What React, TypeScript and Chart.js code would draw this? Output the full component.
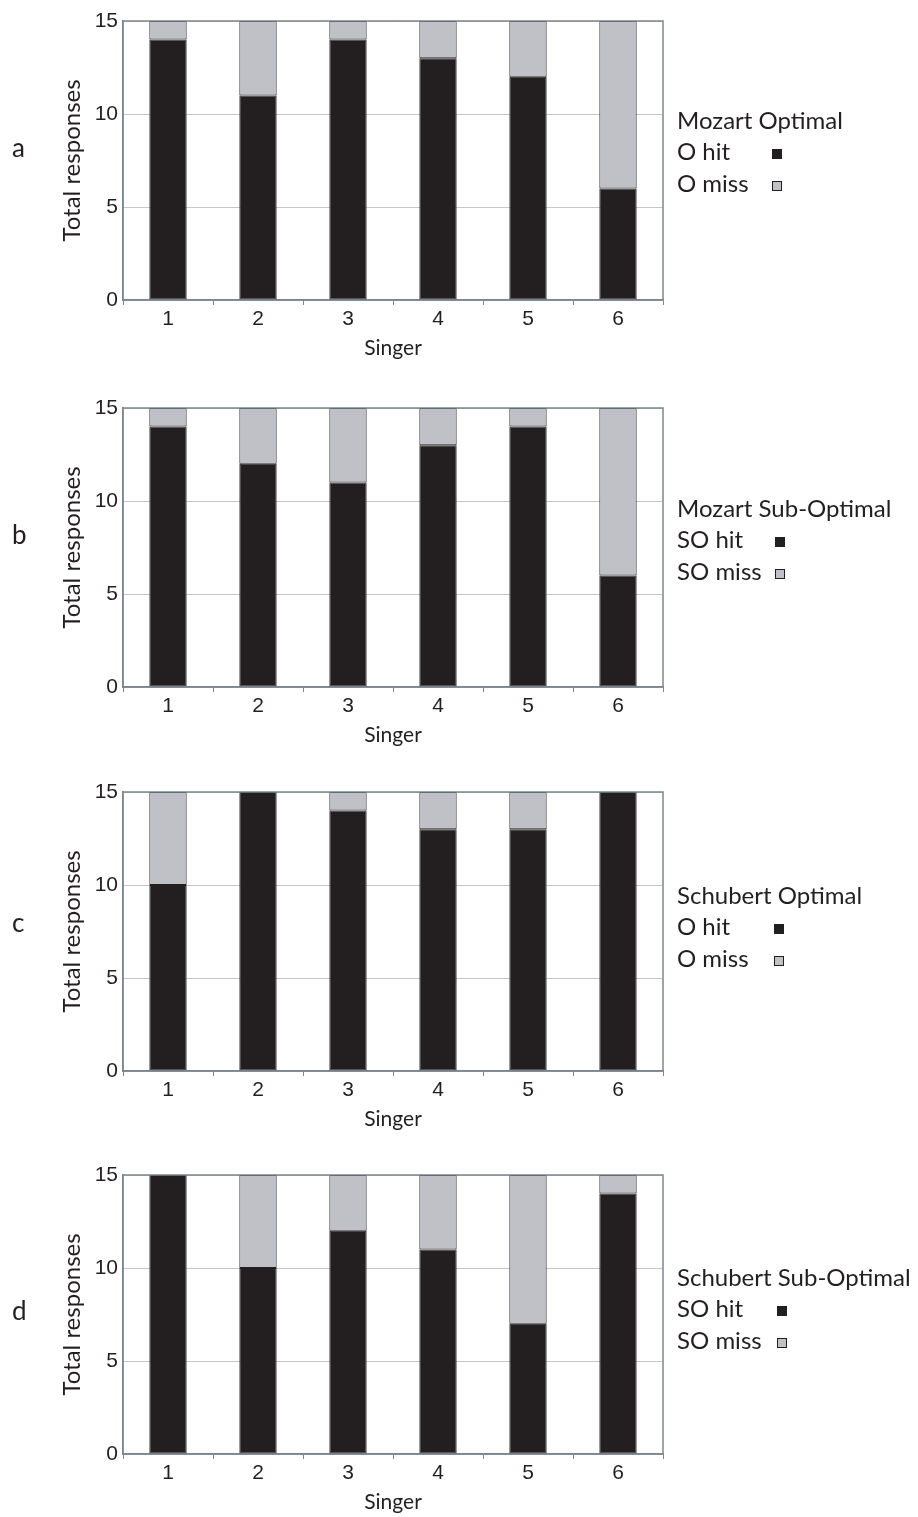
import React, { useEffect, useRef } from "react";
import { Chart, registerables } from "chart.js";

Chart.register(...registerables);

const singers = ["1", "2", "3", "4", "5", "6"];
const yTicks = [0, 5, 10, 15];

const mozartOptimalHit = [14, 11, 14, 13, 12, 6];
const mozartOptimalMiss = [1, 4, 1, 2, 3, 9];
const mozartSubOptimalHit = [14, 12, 11, 13, 14, 6];
const mozartSubOptimalMiss = [1, 3, 4, 2, 1, 9];
const schubertOptimalHit = [10, 15, 14, 13, 13, 15];
const schubertOptimalMiss = [5, 0, 1, 2, 2, 0];
const schubertSubOptimalHit = [15, 10, 12, 11, 7, 14];
const schubertSubOptimalMiss = [0, 5, 3, 4, 8, 1];

const HIT = "#231f20";
const MISS = "#bfc1c7";
const AXIS = "#7d868f";
const GRID = "#c6c6c6";
const TEXT = "#231f20";
const SANS = "Lato, 'Open Sans', sans-serif";
const TICKF = "'Liberation Sans', Arial, sans-serif";

const W = 918;
const H = 365;

const framePlugin = {
  id: "frame",
  afterDatasetsDraw(chart: any) {
    const { ctx, chartArea } = chart;
    const { left, top, right, bottom } = chartArea;
    ctx.save();
    ctx.strokeStyle = AXIS;
    ctx.lineWidth = 1.5;
    ctx.strokeRect(left, top, right - left, bottom - top);
    ctx.restore();
  },
};

type PanelProps = {
  top: number;
  hit: number[];
  miss: number[];
  hitLabel: string;
  missLabel: string;
  letter: string;
  letterY: number;
  title: string;
  titleY: number;
  squareX: number;
};

function Panel(p: PanelProps) {
  const ref = useRef<HTMLCanvasElement | null>(null);
  useEffect(() => {
    if (!ref.current) return;
    const chart = new Chart(ref.current, {
      type: "bar",
      data: {
        labels: singers,
        datasets: [
          {
            label: p.hitLabel,
            data: p.hit,
            backgroundColor: HIT,
            borderColor: HIT,
            borderWidth: 1,
            borderSkipped: false,
            barPercentage: 0.415,
            categoryPercentage: 1,
          },
          {
            label: p.missLabel,
            data: p.miss,
            backgroundColor: MISS,
            borderColor: HIT,
            borderWidth: 1,
            borderSkipped: false,
            barPercentage: 0.415,
            categoryPercentage: 1,
          },
        ],
      },
      options: {
        responsive: false,
        animation: false,
        layout: { padding: { left: 0, right: W - 663, top: 21, bottom: 0 } },
        plugins: { legend: { display: false }, tooltip: { enabled: false } },
        scales: {
          x: {
            stacked: true,
            grid: {
              offset: true,
              drawOnChartArea: false,
              drawTicks: true,
              tickLength: 5,
              color: AXIS,
              lineWidth: 1,
            },
            border: { display: true, color: AXIS, width: 1.5 },
            ticks: {
              color: TEXT,
              font: { family: TICKF, size: 21 },
              padding: 2,
              maxRotation: 0,
            },
            title: {
              display: true,
              text: "Singer",
              color: TEXT,
              font: { family: SANS, size: 21, lineHeight: 1 },
              padding: { top: 0, bottom: 6 },
            },
            afterFit: (s: any) => {
              s.height = H - 300;
            },
          },
          y: {
            stacked: true,
            min: 0,
            max: 15,
            grid: { color: GRID, lineWidth: 1, drawTicks: false },
            border: { display: true, color: AXIS, width: 1.5 },
            ticks: {
              color: TEXT,
              font: { family: TICKF, size: 21 },
              padding: 5,
            },
            afterBuildTicks: (s: any) => {
              s.ticks = yTicks.map((v) => ({ value: v }));
            },
            title: {
              display: true,
              text: "Total responses",
              color: TEXT,
              font: { family: SANS, size: 24, lineHeight: 1 },
              padding: { top: 60, bottom: 0 },
            },
            afterFit: (s: any) => {
              s.width = 123;
            },
          },
        },
      },
      plugins: [framePlugin],
    });
    return () => chart.destroy();
  }, []);

  const lineStyle = (y: number): React.CSSProperties => ({
    position: "absolute",
    left: 677,
    top: y - 12.6,
    fontFamily: SANS,
    fontSize: 24,
    lineHeight: "24px",
    color: TEXT,
    whiteSpace: "nowrap",
  });
  const sq = (y: number, fill: string): React.CSSProperties => ({
    position: "absolute",
    left: p.squareX,
    top: y - 4,
    width: 8,
    height: 8,
    background: fill,
    border: `1px solid ${HIT}`,
  });

  const t = p.titleY;
  return (
    <>
      <canvas
        ref={ref}
        width={W}
        height={H}
        style={{ position: "absolute", left: 0, top: p.top, width: W, height: H }}
      />
      <div
        style={{
          position: "absolute",
          left: 12,
          top: p.letterY - 16.5,
          fontFamily: SANS,
          fontSize: 26,
          lineHeight: "26px",
          color: TEXT,
        }}
      >
        {p.letter}
      </div>
      <div style={lineStyle(t)}>{p.title}</div>
      <div style={lineStyle(t + 31)}>{p.hitLabel}</div>
      <div style={sq(t + 32, HIT)} />
      <div style={lineStyle(t + 62.5)}>{p.missLabel}</div>
      <div style={sq(t + 63.5, MISS)} />
    </>
  );
}

export default function App() {
  return (
    <div
      style={{
        position: "absolute",
        left: 0,
        top: 0,
        width: W,
        height: 1517,
        background: "#fff",
        overflow: "hidden",
      }}
    >
      <Panel
        top={0}
        hit={mozartOptimalHit}
        miss={mozartOptimalMiss}
        hitLabel="O hit"
        missLabel="O miss"
        letter="a"
        letterY={150}
        title="Mozart Optimal"
        titleY={121}
        squareX={772}
      />
      <Panel
        top={387}
        hit={mozartSubOptimalHit}
        miss={mozartSubOptimalMiss}
        hitLabel="SO hit"
        missLabel="SO miss"
        letter="b"
        letterY={537}
        title="Mozart Sub-Optimal"
        titleY={509}
        squareX={775}
      />
      <Panel
        top={771}
        hit={schubertOptimalHit}
        miss={schubertOptimalMiss}
        hitLabel="O hit"
        missLabel="O miss"
        letter="c"
        letterY={925}
        title="Schubert Optimal"
        titleY={896}
        squareX={774}
      />
      <Panel
        top={1154}
        hit={schubertSubOptimalHit}
        miss={schubertSubOptimalMiss}
        hitLabel="SO hit"
        missLabel="SO miss"
        letter="d"
        letterY={1313}
        title="Schubert Sub-Optimal"
        titleY={1278}
        squareX={777}
      />
    </div>
  );
}
